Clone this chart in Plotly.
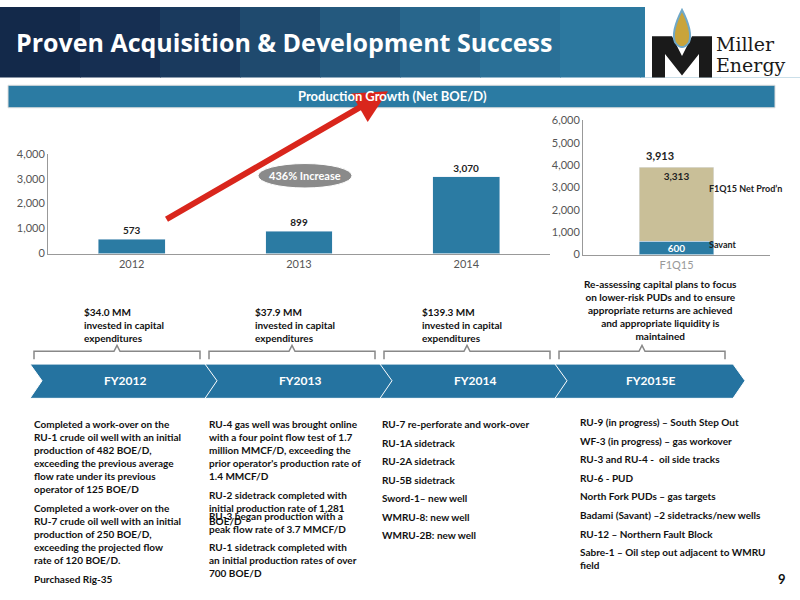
import plotly.graph_objects as go

years = ['2012', '2013', '2014']
net_boe = [573, 899, 3070]
q_cat = ['F1Q15']
savant = [600]
f1q15_net = [3313]
q_total = 3913

fy_labels = ['FY2012', 'FY2013', 'FY2014', 'FY2015E']
capex = ['$34.0 MM<br>invested in capital<br>expenditures',
         '$37.9 MM<br>invested in capital<br>expenditures',
         '$139.3 MM<br>invested in capital<br>expenditures']
col1 = ['Completed a work-over on the<br>RU-1 crude oil well with an initial<br>production of 482 BOE/D,<br>exceeding the previous average<br>flow rate under its previous<br>operator of 125 BOE/D',
        'Completed a work-over on the<br>RU-7 crude oil well with an initial<br>production of 250 BOE/D,<br>exceeding the projected flow<br>rate of 120 BOE/D.',
        'Purchased Rig-35']
col2 = ["RU-4 gas well was brought online<br>with a four point flow test of 1.7<br>million MMCF/D, exceeding the<br>prior operator's production rate of<br>1.4 MMCF/D",
        'RU-2 sidetrack completed with<br>initial production rate of 1,281<br>BOE/D',
        'RU-3 began production with a<br>peak flow rate of 3.7 MMCF/D',
        'RU-1 sidetrack completed with<br>an initial production rates of over<br>700 BOE/D']
col3 = ['RU-7 re-perforate and work-over', 'RU-1A sidetrack', 'RU-2A sidetrack', 'RU-5B sidetrack',
        'Sword-1\u2013 new well', 'WMRU-8: new well', 'WMRU-2B: new well']
col4 = ['RU-9 (in progress) \u2013 South Step Out', 'WF-3 (in progress) \u2013 gas workover',
        'RU-3 and RU-4 -  oil side tracks', 'RU-6 - PUD', 'North Fork PUDs \u2013 gas targets',
        'Badami (Savant) \u20132 sidetracks/new wells', 'RU-12 \u2013 Northern Fault Block',
        'Sabre-1 \u2013 Oil step out adjacent to WMRU<br>field']

FONT = 'Lato'
BLUE = '#2b7ba3'
W, H = 800, 600


def px(x):
    return x / W


def py(y):
    return 1 - y / H


fig = go.Figure()
fig.add_trace(go.Bar(x=years, y=net_boe, marker_color=BLUE, width=0.4,
                     text=[f'<b>{v:,}</b>' for v in net_boe], textposition='outside',
                     textfont=dict(size=11, color='#222'), cliponaxis=False,
                     xaxis='x', yaxis='y'))
fig.add_trace(go.Bar(x=q_cat, y=savant, marker_color=BLUE, width=0.4,
                     text=[f'<b>{v:,}</b>' for v in savant], textposition='inside',
                     insidetextanchor='middle', textfont=dict(size=10, color='white'),
                     xaxis='x2', yaxis='y2'))
fig.add_trace(go.Bar(x=q_cat, y=f1q15_net, marker_color='#c9bf98', width=0.4,
                     text=[f'<b>{v:,}</b>' for v in f1q15_net], textposition='inside',
                     insidetextanchor='end', textfont=dict(size=10, color='#222'),
                     xaxis='x2', yaxis='y2'))

axfont = dict(size=11, color='#555', family=FONT)
fig.update_layout(
    width=W, height=H, margin=dict(l=0, r=0, t=0, b=0), showlegend=False,
    barmode='stack', paper_bgcolor='white', plot_bgcolor='white',
    font=dict(family=FONT), uniformtext=dict(minsize=9, mode='show'),
    xaxis=dict(domain=[px(48), px(550)], anchor='y', tickfont=dict(size=11, color='#555', family=FONT),
               showline=True, linecolor='#999', ticks=''),
    yaxis=dict(domain=[py(252), py(150)], range=[0, 4000], dtick=1000, tickformat=',',
               tickfont=axfont, showgrid=False, showline=True, linecolor='#999', zeroline=False),
    xaxis2=dict(domain=[px(583), px(770)], anchor='y2', tickfont=dict(size=11, color='#999'),
                showline=True, linecolor='#999'),
    yaxis2=dict(domain=[py(253), py(116)], range=[0, 6000], dtick=1000, tickformat=',',
                tickfont=axfont, showgrid=False, showline=True, linecolor='#999',
                zeroline=False, anchor='x2'),
)

shapes = []
# header gradient
cols = ['#13294a', '#162f52', '#1a3a5e', '#1f4a6e', '#24597e', '#28668c', '#2a7097', '#2c789f', '#2d7ca3', '#2e7fa6']
for i, c in enumerate(cols):
    shapes.append(dict(type='rect', xref='paper', yref='paper', x0=i / 10, x1=(i + 1) / 10 + 0.001,
                       y0=py(72), y1=1, fillcolor=c, line_width=0, layer='below'))
shapes.append(dict(type='rect', xref='paper', yref='paper', x0=px(645), x1=px(800), y0=py(72), y1=1,
                   fillcolor='white', line_width=0))
shapes.append(dict(type='rect', xref='paper', yref='paper', x0=px(8), x1=px(775), y0=py(103), y1=py(80),
                   fillcolor=BLUE, line=dict(color='#ddd', width=1)))
# logo M
shapes.append(dict(type='path', xref='paper', yref='paper',
                   path=f'M {px(652)},{py(72)} L {px(652)},{py(30)} L {px(672)},{py(30)} L {px(682)},{py(50)} '
                        f'L {px(692)},{py(30)} L {px(712)},{py(30)} L {px(712)},{py(72)} L {px(699)},{py(72)} '
                        f'L {px(699)},{py(48)} L {px(682)},{py(70)} L {px(665)},{py(48)} L {px(665)},{py(72)} Z',
                   fillcolor='#1a1a1a', line_width=0))
shapes.append(dict(type='path', xref='paper', yref='paper',
                   path=f'M {px(682)},{py(3)} Q {px(671)},{py(25)} {px(675)},{py(36)} Q {px(682)},{py(46)} '
                        f'{px(689)},{py(36)} Q {px(693)},{py(25)} {px(682)},{py(3)} Z',
                   fillcolor='#c9a43a', line=dict(color='#6fa8c8', width=2)))
# red arrow
fig.add_annotation(xref='paper', yref='paper', x=px(388), y=py(86), ax=-223, ay=129,
                   showarrow=True, arrowhead=2, arrowsize=1.1,
                   arrowwidth=6, arrowcolor='#d9261c', text='')
shapes.append(dict(type='circle', xref='paper', yref='paper', x0=px(258), x1=px(352), y0=py(185), y1=py(160),
                   fillcolor='#8a8a8a', line=dict(color='white', width=1)))
# chevrons
xs = [30, 205, 380, 555]
for i, x0 in enumerate(xs):
    x1 = x0 + 178
    tip = 12
    shapes.append(dict(type='path', xref='paper', yref='paper',
                       path=f'M {px(x0)},{py(365)} L {px(x1)},{py(365)} L {px(x1 + tip)},{py(382)} L {px(x1)},{py(400)} '
                            f'L {px(x0)},{py(400)} L {px(x0 + tip)},{py(382)} Z',
                       fillcolor='#2573a0', line=dict(color='white', width=1)))
    fig.add_annotation(xref='paper', yref='paper', x=px(x0 + 95), y=py(382), text=f'<b>{fy_labels[i]}</b>',
                       showarrow=False, xanchor='center', yanchor='middle',
                       font=dict(size=12, color='white'))
    # bracket
    bx0, bx1 = x0 + 4, x0 + 170
    mid = (bx0 + bx1) / 2
    shapes.append(dict(type='path', xref='paper', yref='paper',
                       path=f'M {px(bx0)},{py(360)} L {px(bx0)},{py(352)} L {px(mid - 3)},{py(352)} L {px(mid)},{py(346)} '
                            f'L {px(mid + 3)},{py(352)} L {px(bx1)},{py(352)} L {px(bx1)},{py(360)}',
                       line=dict(color='#888', width=1.5)))

fig.update_layout(shapes=shapes)

ann = [
    (px(14), py(36), '<b>Proven Acquisition & Development Success</b>', 25, 'white', 'left', 'Open Sans'),
    (px(392), py(91), '<b>Production Growth (Net BOE/D)</b>', 13, 'white', 'center', FONT),
    (px(305), py(172), '<b>436% Increase</b>', 11, 'white', 'center', FONT),
    (px(714), py(38), 'Miller', 19, '#1a1a1a', 'left', 'DejaVu Serif'),
    (px(714), py(59), 'Energy', 19, '#1a1a1a', 'left', 'DejaVu Serif'),
    (px(660), py(152), '<b>3,913</b>', 11, '#222', 'center', FONT),
    (px(707), py(186), '<b>F1Q15 Net Prod\u2019n</b>', 9, '#222', 'left', FONT),
    (px(707), py(243), '<b>Savant</b>', 9, '#222', 'left', FONT),
    (px(660), py(310), '<b>Re-assessing capital plans to focus<br>on lower-risk PUDs and to ensure<br>appropriate returns are achieved<br>and appropriate liquidity is<br>maintained</b>',
     10, '#111', 'center', FONT),
    (px(788), py(585), '<b>9</b>', 13, '#111', 'right', FONT),
]
for x, y, t, s, c, al, f in ann:
    fig.add_annotation(xref='paper', yref='paper', x=x, y=y, text=t, showarrow=False,
                       xanchor=al, yanchor='middle', font=dict(size=s, color=c, family=f), align=al)

for x, t in zip([82, 253, 420], capex):
    fig.add_annotation(xref='paper', yref='paper', x=px(x), y=py(325), text=f'<b>{t}</b>', showarrow=False,
                       xanchor='left', yanchor='middle', align='left', font=dict(size=10, color='#111'))


def col_text(x, y0, items, gap):
    y = y0
    for it in items:
        fig.add_annotation(xref='paper', yref='paper', x=px(x), y=py(y), text=f'<b>{it}</b>', showarrow=False,
                           xanchor='left', yanchor='top', align='left',
                           font=dict(size=10, color='#111'))
        y += gap(it)


col_text(32, 418, col1, lambda s: (s.count('<br>') + 1) * 13.5 + 5)
col_text(207, 418, col2[:2], lambda s: (s.count('<br>') + 1) * 13.5 + 5)
col_text(207, 512, col2[2:], lambda s: (s.count('<br>') + 1) * 13.5 + 5)
col_text(380, 418, col3, lambda s: 19)
col_text(578, 416, col4, lambda s: 19)

fig.write_html('out.html', config={'displayModeBar': False},
               post_script="document.body.style.margin='0';")
